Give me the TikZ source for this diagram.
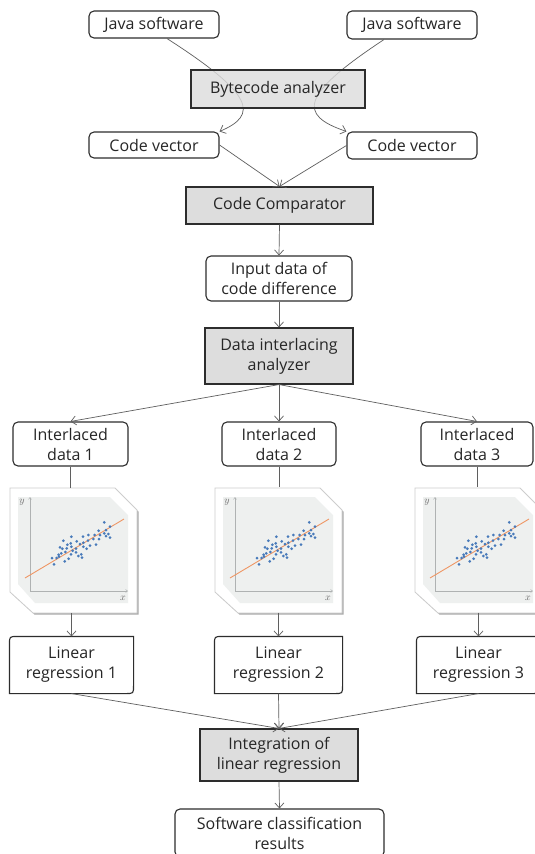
\documentclass[tikz,border=0pt]{standalone}
\usepackage{fontspec}
\newfontfamily\boxfont{Open Sans}
\usetikzlibrary{arrows.meta}
\definecolor{boxgray}{RGB}{221,221,221}
\definecolor{linegray}{RGB}{95,95,95}
\definecolor{edgec}{RGB}{45,45,45}
\definecolor{panelc}{RGB}{238,240,239}
\definecolor{dotc}{RGB}{72,122,186}
\definecolor{fitc}{RGB}{238,150,100}
\definecolor{axisc}{RGB}{175,178,178}
\definecolor{framec}{RGB}{205,205,205}
\definecolor{shadowc}{RGB}{170,170,170}
\tikzset{
  base/.style={draw=edgec, line width=1.1pt, inner sep=0pt, align=center,
    font=\boxfont\fontsize{16}{20}\selectfont, text=black!85},
  rbox/.style={base, rounded corners=5pt, fill=white},
  gbox/.style={base, fill=boxgray},
  lrbox/.style={base, draw=none},
  conn/.style={draw=linegray, line width=0.7pt},
  arr/.style={conn, -{Straight Barb[length=5pt,width=9pt]}},
  slot/.style={inner sep=0pt, minimum width=127pt, minimum height=125pt},
  lrframe/.style={draw=edgec, line width=1.1pt},
}
\newcommand\lrshape[1]{%
  \draw[lrframe] ([yshift=-8pt]#1.north west) .. controls (#1.north west) .. ([xshift=8pt]#1.north west)
    -- (#1.north east) -- ([yshift=8pt]#1.south east) .. controls (#1.south east) .. ([xshift=-8pt]#1.south east)
    -- (#1.south west) -- cycle;}
\newcommand\scattericon[1]{%
  \begin{scope}[shift={#1}]
    \fill[shadowc] (1.5,1.5) -- (106.5,1.5) -- (128.5,23.5) -- (128.5,126.5) -- (24.5,126.5) -- (1.5,105.5) -- cycle;
    \filldraw[fill=white, draw=framec, line width=0.8pt] (0,0) -- (105,0) -- (127,22) -- (127,125) -- (23,125) -- (0,104) -- cycle;
    \fill[panelc] (8,9) -- (100,9) -- (118,27) -- (118,115) -- (25,115) -- (8,96) -- cycle;
    \draw[axisc, line width=0.5pt, -{Straight Barb[length=2pt,width=3pt]}] (20,103) -- (20,9);
    \draw[axisc, line width=0.5pt, -{Straight Barb[length=2pt,width=3pt]}] (20,103) -- (118,103);
    \node[text=black!60, inner sep=0pt, font=\fontsize{10}{10}\selectfont] at (12,14) {$y$};
    \node[text=black!60, inner sep=0pt, font=\fontsize{10}{10}\selectfont] at (113,110) {$x$};
    \draw[fitc, line width=0.9pt] (15,90) -- (114,31);
    \foreach \p in {(94.3,34.3),(100,38.7),(96,42),(88.7,42.7),(84.7,47),(90,47),(94.3,45.3),(98.3,46),
      (100,49.7),(96,48),(89,51),(86,56.7),(83.3,51),(78.3,47),(73,48.7),(78,52.7),(73.3,54.7),(70,56),
      (66.7,53.3),(61.3,48.7),(53.3,52.7),(57.3,56.7),(61.3,58.7),(60.7,55.3),(56.7,60.3),(55.3,64),
      (52.3,60.7),(50,59.3),(48.7,66.7),(51.3,65.3),(46.7,70),(42,70),(44,76.3),(49,68.7),(54.7,73.3),
      (58.7,70.7),(61,66.3),(62.7,62.7),(66,64.3),(68.3,68),(72,69.7),(71.3,66.3),(66,60.7),(76.7,60.7),
      (73.3,58.7),(80,57.7)}
      \fill[dotc] \p circle[radius=1.5];
  \end{scope}}
\begin{document}
\begin{tikzpicture}[x=1pt,y=-1pt]
  \useasboundingbox[fill=white] (0,0) rectangle (535,854);
  % top row
  \node[rbox, minimum width=130pt, minimum height=27pt] (J1) at (154,24.5) {Java software};
  \node[rbox, minimum width=130pt, minimum height=28pt] (J2) at (412,25) {Java software};
  \node[rbox, minimum width=130pt, minimum height=26pt] (CV1) at (154,145) {Code vector};
  \node[rbox, minimum width=130pt, minimum height=27pt] (CV2) at (412,145.5) {Code vector};
  \draw[arr] ([xshift=13pt]J1.south) .. controls (255,95) and (258,115) .. (CV1.north east);
  \draw[arr] ([xshift=-28pt]J2.south) .. controls (300,95) and (298,115) .. (CV2.north west);
  \node[gbox, fill opacity=0.82, text opacity=1, minimum width=174pt, minimum height=38pt] (BA) at (278,89) {Bytecode analyzer};
  % comparator
  \node[gbox, minimum width=187pt, minimum height=37pt] (CC) at (279.5,205.5) {Code Comparator};
  \draw[arr] (CV1.east) -- (CC.north);
  \draw[arr] (CV2.west) -- (CC.north);
  \node[rbox, minimum width=146pt, minimum height=45pt] (IN) at (279,278.5) {Input data of\\code difference};
  \node[gbox, minimum width=148pt, minimum height=56pt] (DA) at (279,356) {Data interlacing\\analyzer};
  \draw[arr] (CC.south) -- (IN.north);
  \draw[arr] (IN.south) -- (DA.north);
  % interlaced data
  \node[rbox, minimum width=115pt, minimum height=44pt] (D1) at (70.5,444) {Interlaced\\data 1};
  \node[rbox, minimum width=114pt, minimum height=44pt] (D2) at (279,444) {Interlaced\\data 2};
  \node[rbox, minimum width=112pt, minimum height=44pt] (D3) at (477,444) {Interlaced\\data 3};
  \draw[arr] (DA.south) -- (D1.north);
  \draw[arr] (DA.south) -- (D2.north);
  \draw[arr] (DA.south) -- (D3.north);
  % scatter icons
  \scattericon{(10,488)}
  \scattericon{(215,488)}
  \scattericon{(415,488)}
  \node[slot] (I1) at (73.5,550.5) {};
  \node[slot] (I2) at (278.5,550) {};
  \node[slot] (I3) at (478.5,550) {};
  % linear regression
  \node[lrbox, minimum width=123pt, minimum height=56pt] (LR1) at (71.5,665) {Linear\\regression 1};
  \node[lrbox, minimum width=127pt, minimum height=56pt] (LR2) at (278.5,665) {Linear\\regression 2};
  \node[lrbox, minimum width=123pt, minimum height=56pt] (LR3) at (478.5,665) {Linear\\regression 3};
  \lrshape{LR1}
  \lrshape{LR2}
  \lrshape{LR3}
  \draw[conn] (D1.south) -- (D1.south |- I1.north);
  \draw[conn] (D2.south) -- (D2.south |- I2.north);
  \draw[conn] (D3.south) -- (D3.south |- I3.north);
  \draw[arr] (LR1.north |- I1.south) -- (LR1.north);
  \draw[arr] (LR2.north |- I2.south) -- (LR2.north);
  \draw[arr] (LR3.north |- I3.south) -- (LR3.north);
  % integration
  \node[gbox, minimum width=158pt, minimum height=52pt] (INT) at (279,755) {Integration of\\linear regression};
  \draw[arr] (LR1.south) -- (INT.north);
  \draw[arr] (LR2.south) -- (INT.north);
  \draw[arr] (LR3.south) -- (INT.north);
  \node[rbox, minimum width=209pt, minimum height=48pt] (SW) at (279.5,833) {Software classification\\results};
  \draw[arr] (INT.south) -- (SW.north);
\end{tikzpicture}
\end{document}
